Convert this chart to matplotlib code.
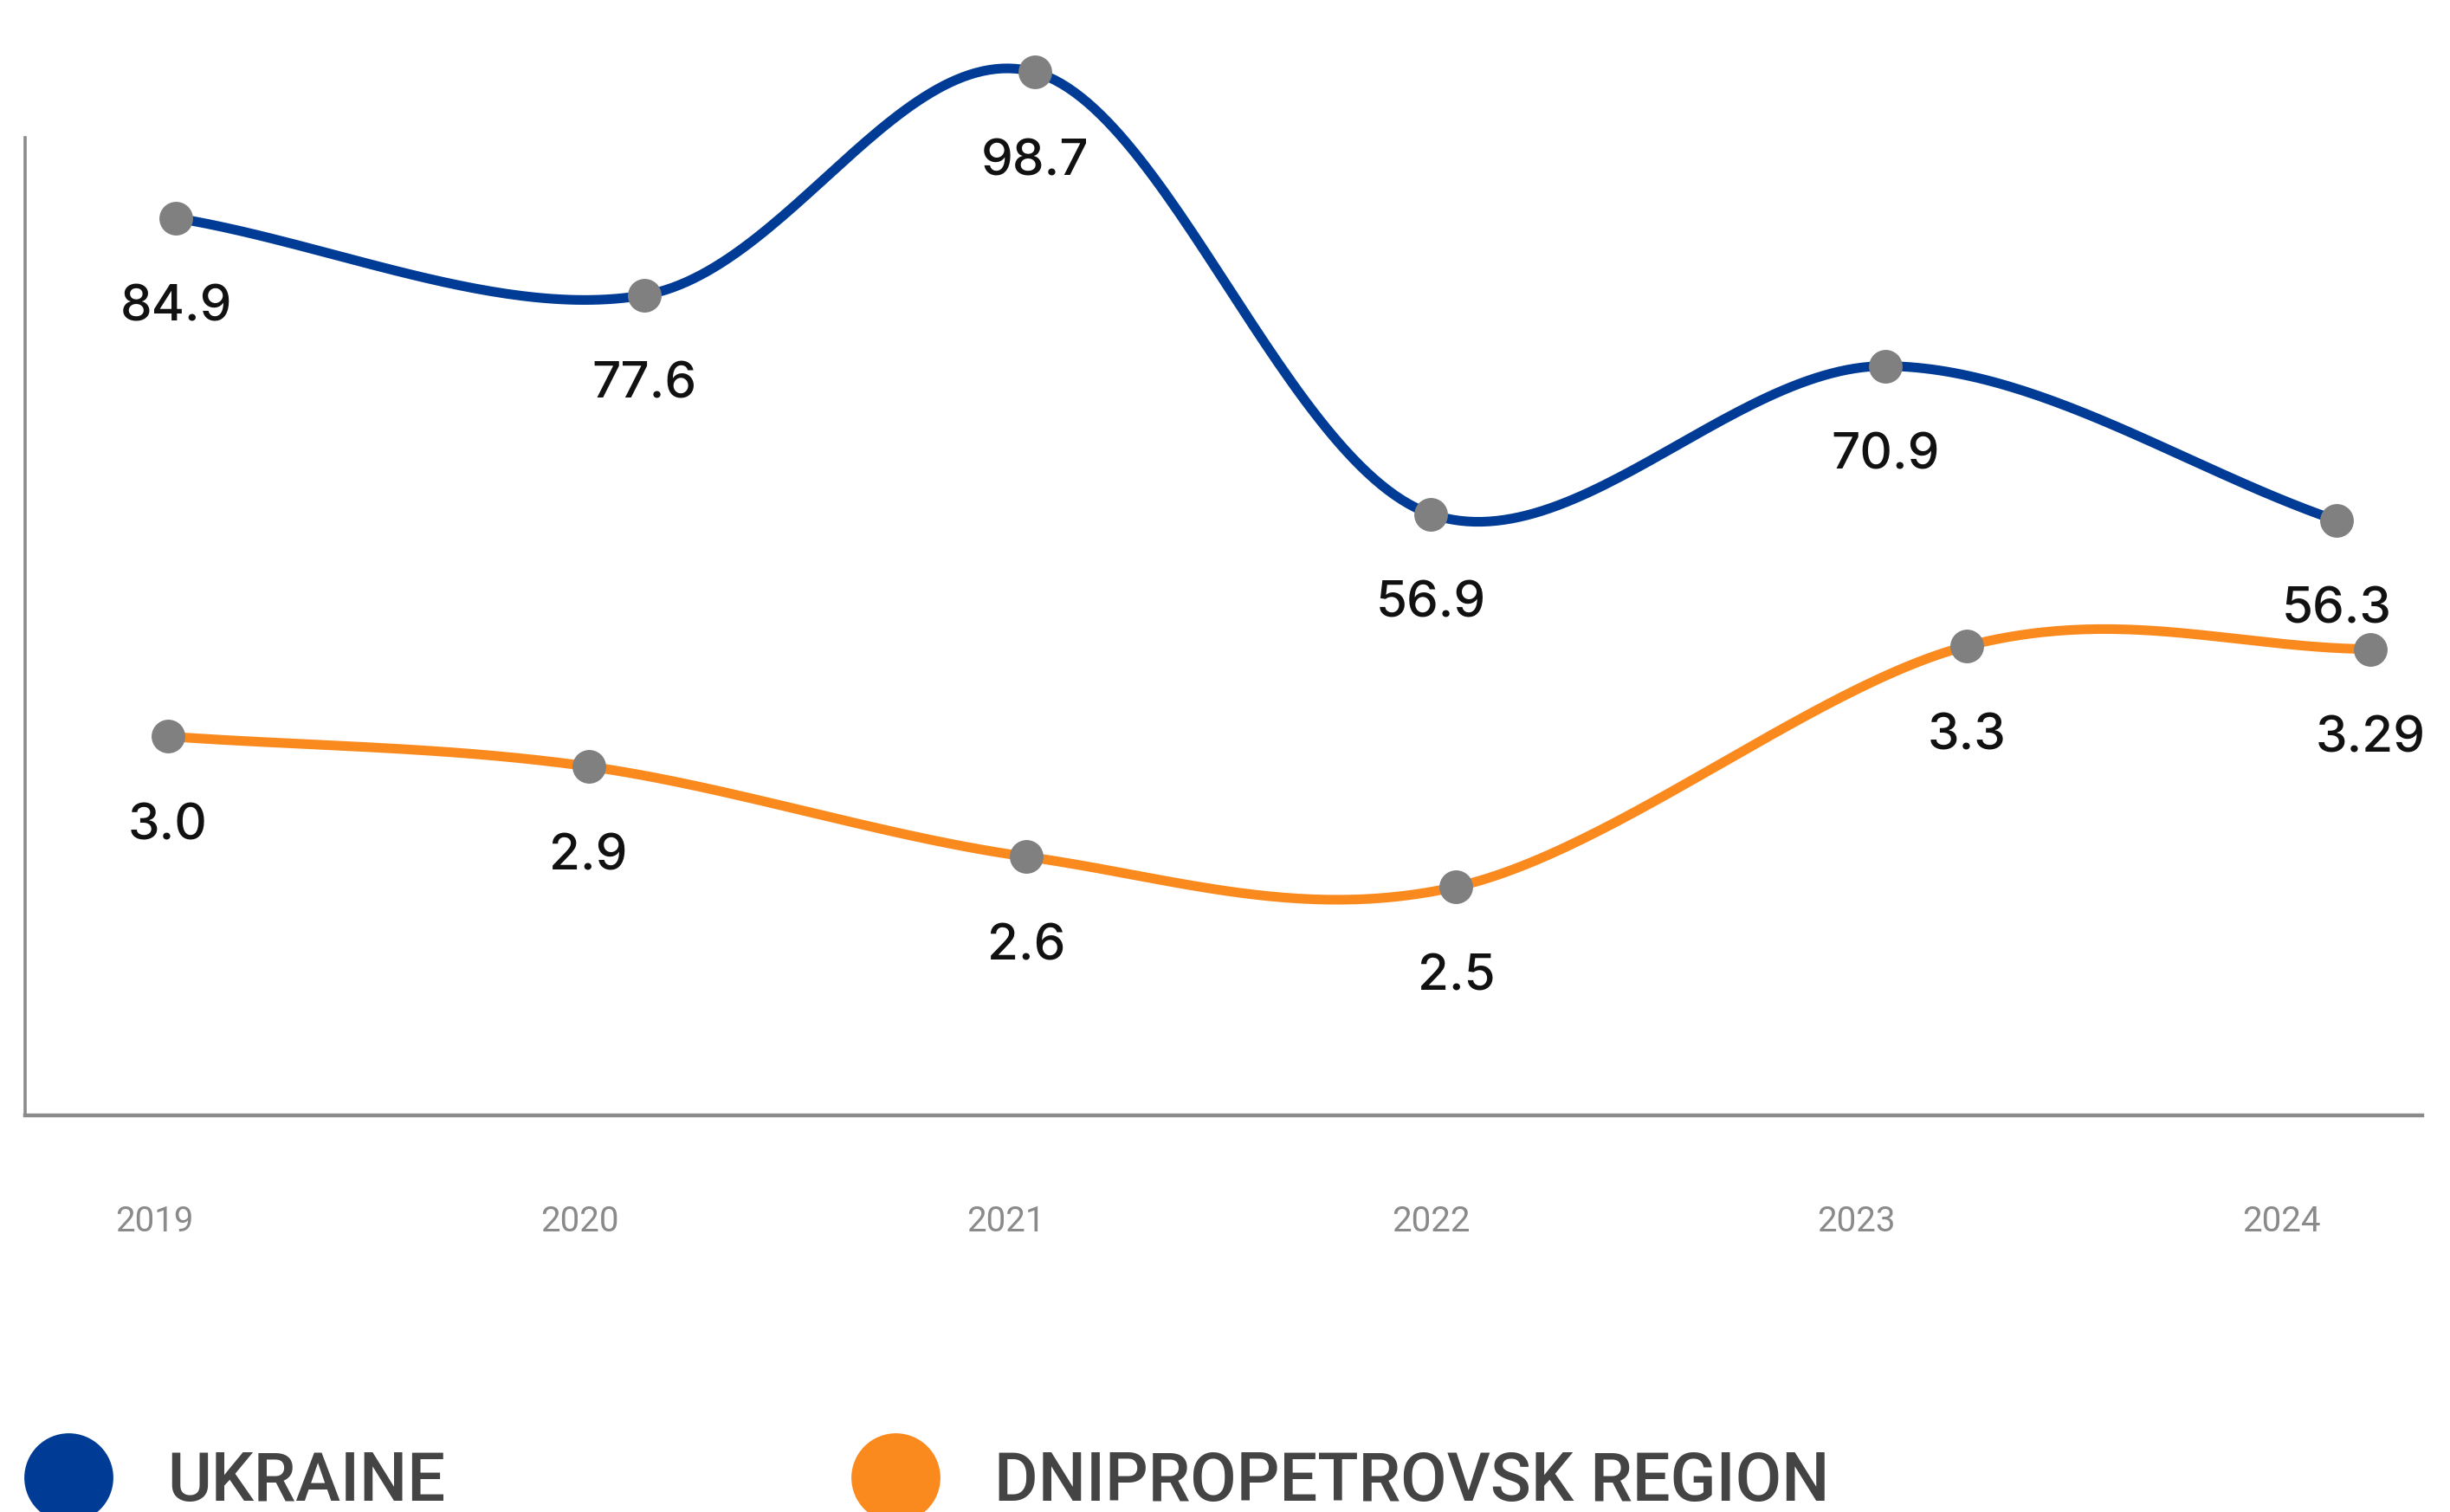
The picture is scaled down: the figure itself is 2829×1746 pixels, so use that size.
import numpy as np
import matplotlib
matplotlib.use("Agg")
import matplotlib.pyplot as plt
from matplotlib.lines import Line2D

# ---------------- data ----------------
years = [2019, 2020, 2021, 2022, 2023, 2024]
year_labels = ["2019", "2020", "2021", "2022", "2023", "2024"]

ukraine_x = [2019.05, 2020.15, 2021.07, 2022.00, 2023.07, 2024.13]
ukraine_values = [84.9, 77.6, 98.7, 56.9, 70.9, 56.3]
ukraine_labels = ["84.9", "77.6", "98.7", "56.9", "70.9", "56.3"]

region_x = [2019.03, 2020.02, 2021.05, 2022.06, 2023.26, 2024.21]
region_values = [3.0, 2.9, 2.6, 2.5, 3.3, 3.29]
region_labels = ["3.0", "2.9", "2.6", "2.5", "3.3", "3.29"]

series_names = ["UKRAINE", "DNIPROPETROVSK REGION"]

# ---------------- style ----------------
BLUE = "#003b96"
ORANGE = "#fb8a1e"
MARKER = "#808080"
AXIS = "#8a8a8a"
plt.rcParams["font.family"] = ["Roboto", "DejaVu Sans"]


def catmull_rom(x, y, n=60):
    x = np.asarray(x, float)
    y = np.asarray(y, float)
    P = np.column_stack([x, y])
    k = len(P)
    M = np.zeros_like(P)
    for i in range(k):
        if i == 0:
            M[i] = P[1] - P[0]
        elif i == k - 1:
            M[i] = P[-1] - P[-2]
        else:
            M[i] = (P[i + 1] - P[i - 1]) / 2.0
    out = []
    t = np.linspace(0, 1, n)
    h00 = 2 * t**3 - 3 * t**2 + 1
    h10 = t**3 - 2 * t**2 + t
    h01 = -2 * t**3 + 3 * t**2
    h11 = t**3 - t**2
    for i in range(k - 1):
        seg = (h00[:, None] * P[i] + h10[:, None] * M[i]
               + h01[:, None] * P[i + 1] + h11[:, None] * M[i + 1])
        out.append(seg if i == 0 else seg[1:])
    out = np.vstack(out)
    return out[:, 0], out[:, 1]


fig = plt.figure(figsize=(28.29, 17.46), dpi=100)
ax = fig.add_axes([0.01025, 0.2623, 0.9785, 0.6466])
ax2 = ax.twinx()

ax.set_xlim(2018.695, 2024.332)
ax.set_ylim(0, 92.5)
ax2.set_ylim(1.74, 4.99)

for s in ["top", "right"]:
    ax.spines[s].set_visible(False)
for s in ax2.spines.values():
    s.set_visible(False)
ax.spines["left"].set_color(AXIS)
ax.spines["left"].set_linewidth(2.6)
ax.spines["bottom"].set_color(AXIS)
ax.spines["bottom"].set_linewidth(3.2)

ax.set_yticks([])
ax2.set_yticks([])
ax.set_xticks(years)
ax.set_xticklabels(year_labels)
ax.tick_params(axis="x", length=0, pad=74, labelsize=29, labelcolor="#8a8a8a")

# series
for a, xs, vals, labs, col in [
    (ax, ukraine_x, ukraine_values, ukraine_labels, BLUE),
    (ax2, region_x, region_values, region_labels, ORANGE),
]:
    sx, sy = catmull_rom(xs, vals)
    a.plot(sx, sy, color=col, lw=8, solid_capstyle="round", clip_on=False, zorder=3)
    a.plot(xs, vals, "o", color=MARKER, markersize=28, markeredgewidth=0, clip_on=False, zorder=4)
    for xv, yv, lab in zip(xs, vals, labs):
        a.annotate(lab, (xv, yv), xytext=(0, -104), textcoords="offset pixels",
                   ha="center", va="center", fontsize=42, color="#111111",
                   family=["Inter", "DejaVu Sans"], fontweight="medium",
                   annotation_clip=False, zorder=5)

# legend
handles = [
    Line2D([], [], linestyle="none", marker="o", markersize=74, markeredgewidth=0, color=BLUE),
    Line2D([], [], linestyle="none", marker="o", markersize=74, markeredgewidth=0, color=ORANGE),
]
leg = fig.legend(handles, series_names, loc="center left", bbox_to_anchor=(0.0092, 0.0195),
                 ncol=2, frameon=False, fontsize=56, handlelength=1.35, handletextpad=0.8,
                 columnspacing=6.0, borderpad=0, borderaxespad=0)
for t in leg.get_texts():
    t.set_color("#444444")
    t.set_fontweight("medium")

fig.savefig("out.png", dpi=100)
